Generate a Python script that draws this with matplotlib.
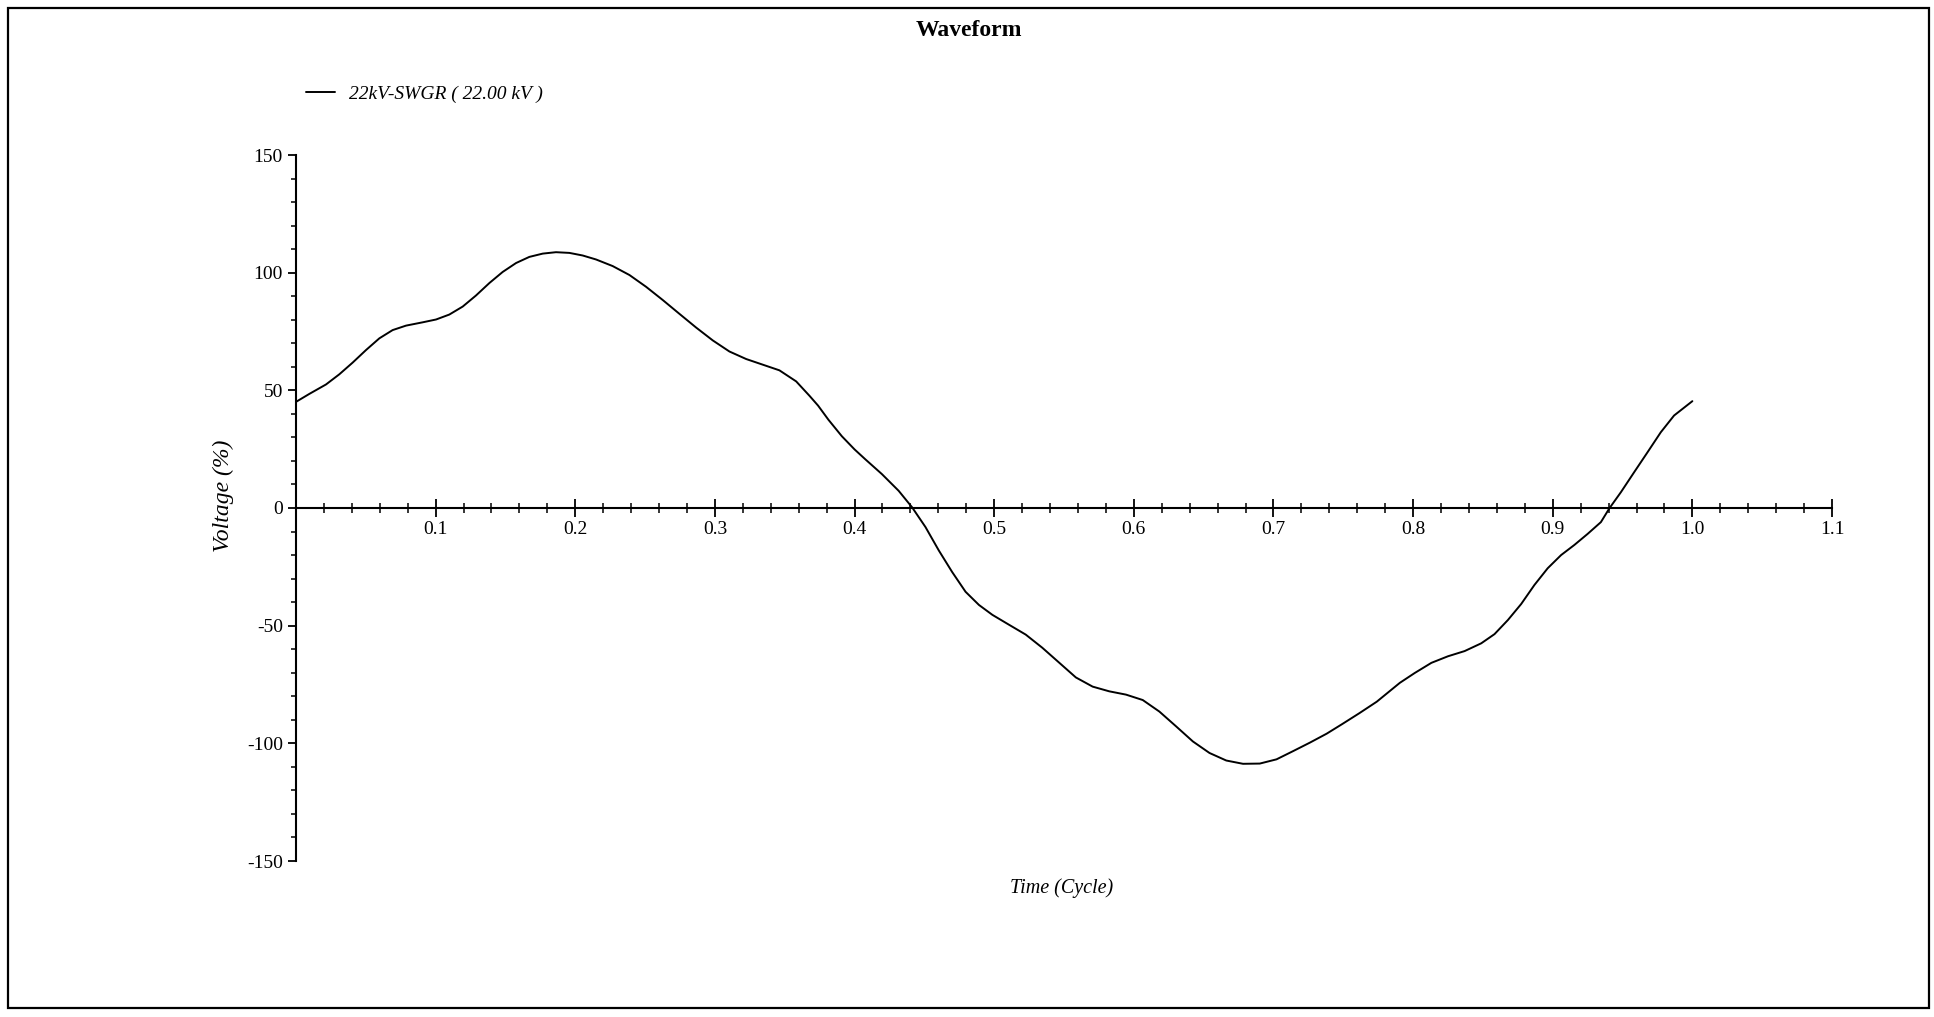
import matplotlib
matplotlib.use("Agg")
import matplotlib.pyplot as plt
from matplotlib.ticker import MultipleLocator, FixedLocator
from matplotlib.patches import Rectangle

plt.rcParams['font.family'] = ['Liberation Serif', 'DejaVu Serif']
plt.rcParams['axes.unicode_minus'] = False

# ---- data ----
time_cycle = [0.0, 0.0096, 0.0215, 0.031, 0.0406, 0.0501, 0.0597, 0.0692, 0.0788, 0.0907,
              0.1003, 0.1098, 0.1194, 0.1289, 0.1385, 0.148, 0.1576, 0.1671, 0.1767, 0.1862,
              0.1958, 0.2053, 0.2149, 0.2268, 0.2388, 0.2507, 0.2626, 0.2746, 0.2865, 0.2985,
              0.3104, 0.3224, 0.3343, 0.3462, 0.3582, 0.3677, 0.3739, 0.3813, 0.3909, 0.4,
              0.4077, 0.4196, 0.4316, 0.4412, 0.4508, 0.4603, 0.4699, 0.4795, 0.4891, 0.4987,
              0.5106, 0.5226, 0.5345, 0.5465, 0.5585, 0.5705, 0.5824, 0.5944, 0.6064, 0.6183,
              0.6303, 0.6423, 0.6542, 0.6662, 0.6782, 0.6902, 0.7022, 0.7141, 0.7261, 0.7381,
              0.749, 0.7615, 0.774, 0.7905, 0.8012, 0.8131, 0.825, 0.8369, 0.8488, 0.8583,
              0.8679, 0.8774, 0.8869, 0.8964, 0.906, 0.9155, 0.925, 0.9345, 0.9405, 0.9488,
              0.9583, 0.9679, 0.9774, 0.9869, 1.0]
voltage_pct = [45.1, 48.5, 52.5, 56.8, 61.8, 67.1, 72.1, 75.6, 77.5, 78.9,
               80.1, 82.2, 85.6, 90.3, 95.6, 100.3, 104.1, 106.7, 108.1, 108.7,
               108.4, 107.3, 105.6, 102.8, 99.0, 94.0, 88.4, 82.5, 76.7, 71.2,
               66.5, 63.3, 60.9, 58.5, 53.8, 47.7, 43.5, 37.5, 30.5, 24.9,
               20.7, 14.4, 7.3, 0.3, -8.1, -18.0, -27.2, -35.6, -41.2, -45.4,
               -49.6, -53.8, -59.4, -65.7, -72.0, -75.9, -77.9, -79.3, -81.6, -86.5,
               -92.8, -99.2, -104.1, -107.3, -108.7, -108.6, -106.8, -103.3, -99.7, -95.9,
               -91.9, -87.2, -82.3, -74.3, -70.1, -65.8, -63.0, -60.8, -57.5, -53.6,
               -47.6, -40.8, -32.7, -25.6, -20.0, -15.7, -11.0, -6.0, -0.2, 6.7,
               15.2, 23.7, 32.2, 39.3, 45.4]
series_label = "22kV-SWGR ( 22.00 kV )"
x_ticks = [0.1, 0.2, 0.3, 0.4, 0.5, 0.6, 0.7, 0.8, 0.9, 1.0, 1.1]
x_tick_labels = ["0.1", "0.2", "0.3", "0.4", "0.5", "0.6", "0.7", "0.8", "0.9", "1.0", "1.1"]
y_ticks = [-150, -100, -50, 0, 50, 100, 150]
y_tick_labels = ["-150", "-100", "-50", "0", "50", "100", "150"]

W, H = 1934, 1017
fig = plt.figure(figsize=(W / 100, H / 100), dpi=100)
fig.patch.set_facecolor('white')

def fx(px):
    return px / W

def fy(py):
    return 1 - py / H

ax_left, ax_right, ax_top, ax_bottom = 296, 1832, 155, 861
ax = fig.add_axes([fx(ax_left), fy(ax_bottom), fx(ax_right - ax_left), (ax_bottom - ax_top) / H])
ax.set_facecolor('none')

line, = ax.plot(time_cycle, voltage_pct, color='black', lw=1.4, label=series_label,
                solid_joinstyle='round', solid_capstyle='round')

ax.set_xlim(0, 1.1)
ax.set_ylim(-150, 150)

for s in ['top', 'right']:
    ax.spines[s].set_visible(False)
ax.spines['bottom'].set_position(('data', 0))
ax.spines['bottom'].set_linewidth(1.5)
ax.spines['left'].set_linewidth(1.5)

ax.xaxis.set_major_locator(FixedLocator(x_ticks))
ax.set_xticklabels(x_tick_labels)
ax.xaxis.set_minor_locator(MultipleLocator(0.02))
ax.yaxis.set_major_locator(FixedLocator(y_ticks))
ax.set_yticklabels(y_tick_labels)
ax.yaxis.set_minor_locator(MultipleLocator(10))

ax.tick_params(axis='x', which='major', direction='inout', length=13, width=1.3,
               labelsize=14, pad=2.5)
ax.tick_params(axis='x', which='minor', direction='inout', length=7, width=1.1)
ax.tick_params(axis='y', which='major', direction='out', length=6, width=1.3,
               labelsize=14, pad=3.5)
ax.tick_params(axis='y', which='minor', direction='out', length=3.5, width=1.1)

# title and axis labels
fig.text(fx(969), fy(30), "Waveform", ha='center', va='center',
         fontsize=17, fontweight='bold')
fig.text(fx(1062), fy(888), "Time (Cycle)", ha='center', va='center',
         fontsize=14.5, fontstyle='italic')
fig.text(fx(223), fy(496), "Voltage (%)", ha='center', va='center',
         fontsize=17, fontstyle='italic', rotation=90)

# legend
fig.legend(handles=[line], labels=[series_label], loc='center left',
           bbox_to_anchor=(fx(306), fy(94)), bbox_transform=fig.transFigure,
           frameon=False, borderpad=0, borderaxespad=0, handlelength=1.5,
           handletextpad=0.7, prop={'style': 'italic', 'size': 14})

# outer frame
fig.patches.append(Rectangle((fx(8), fy(1008)), fx(1929 - 8), (1008 - 8) / H,
                             transform=fig.transFigure, fill=False,
                             edgecolor='black', lw=1.6))

fig.savefig("out.png", dpi=100, facecolor='white')
